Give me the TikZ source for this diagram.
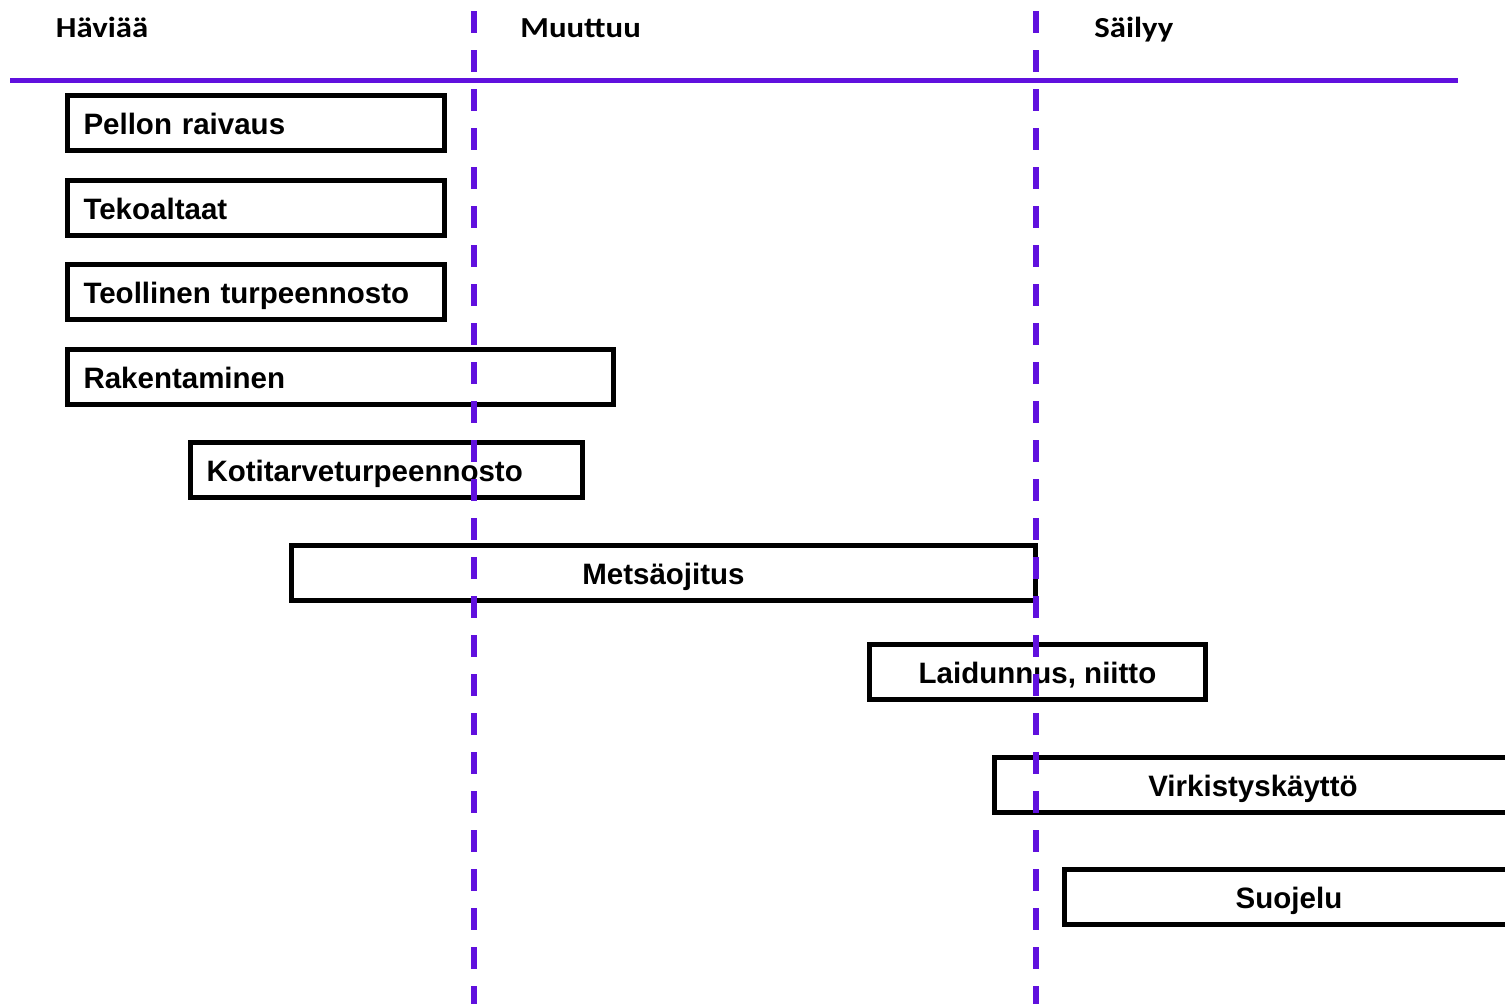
\documentclass[tikz,border=0pt]{standalone}
\usepackage{fontspec}
\setmainfont{Liberation Sans}
\newfontfamily\otsikko[FakeStretch=1.13]{Carlito}
\definecolor{raja}{RGB}{96,16,222}

\begin{document}
\begin{tikzpicture}[x=0.5pt,y=-0.5pt,
    palkki/.style={draw, line width=2.5pt, anchor=north west, outer sep=0pt,
      minimum height=27.5pt, inner xsep=8pt, inner ysep=0pt,
      text height=11pt, text depth=0pt,
      font=\bfseries\fontsize{14.75}{17}\selectfont},
    vasen/.style 2 args={palkki, minimum width=#1, text width=#2, align=left},
    keski/.style={palkki, minimum width=#1},
    otsake/.style={anchor=base west, inner sep=0pt,
      font=\otsikko\bfseries\fontsize{14.5}{17}\selectfont},
    jako/.style={color=raja, line width=2.6pt, dash pattern=on 11pt off 8.5pt},
    viiva/.style={color=raja, line width=2.4pt}]
            \useasboundingbox (0,0) rectangle (1505,1003);
            \clip (0,0) rectangle (1505,1003);
            \node[otsake] (haviaa) at (55.5,37.5) {Häviää};
            \node[otsake] (muuttuu) at (520,37.5) {Muuttuu};
            \node[otsake] (sailyy) at (1094,37.5) {Säilyy};
            \node[vasen={188.5pt}{172.5pt}] (pellon) at (67.5,95.5) {Pellon raivaus};
            \node[vasen={188.5pt}{172.5pt}] (tekoaltaat) at (67.5,180.5) {Tekoaltaat};
            \node[vasen={188.5pt}{172.5pt}] (turve) at (67.5,264.5) {Teollinen turpeennosto};
            \node[vasen={273pt}{257pt}] (rakent) at (67.5,349.5) {Rakentaminen};
            \node[vasen={196pt}{180pt}] (kotitarve) at (190.5,442.5) {Kotitarveturpeennosto};
            \node[keski=372pt] (ojitus) at (291.5,545.5) {Metsäojitus};
            \node[keski=168pt] (laidun) at (869.5,644.5) {Laidunnus, niitto};
            \node[keski=258.5pt] (virkistys) at (994.5,757.5) {Virkistyskäyttö};
            \node[keski=224.5pt] (suojelu) at (1064.5,869.5) {Suojelu};
            \draw (10,80.5) coordinate (V1);
            \draw (1458,80.5) coordinate (V2);
            \draw (474,11) coordinate (J1);
            \draw (474,1010) coordinate (J1L);
            \draw (1036,11) coordinate (J2);
            \draw (1036,1010) coordinate (J2L);
            \draw[viiva] (V1) -- (V2);
            \draw[jako] (J1) -- (J1L);
            \draw[jako] (J2) -- (J2L);
        \end{tikzpicture}
\end{document}
